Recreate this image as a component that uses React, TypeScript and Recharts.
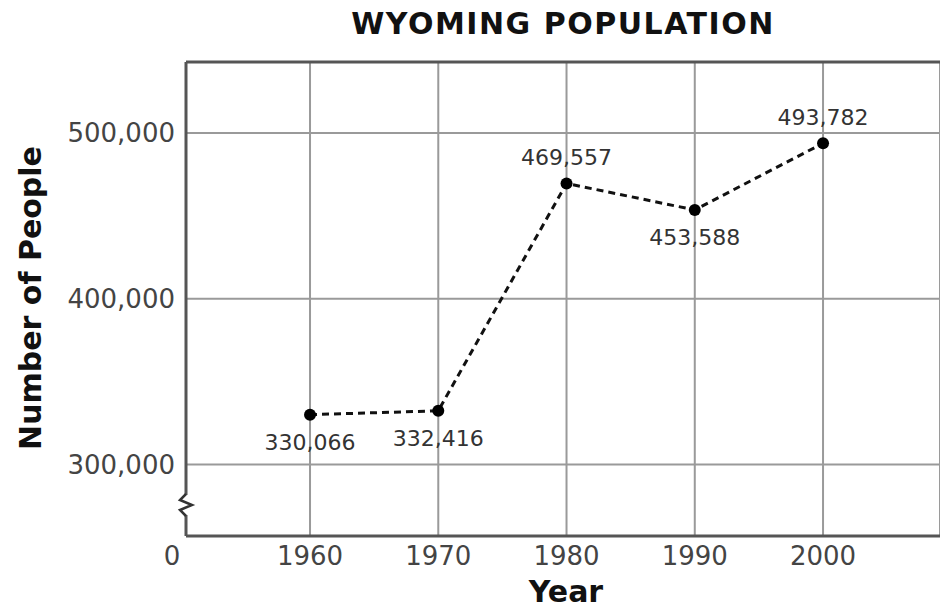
import React from 'react';
import {
    CartesianGrid,
    LabelList,
    Line,
    LineChart,
    ReferenceLine,
    XAxis,
    YAxis
} from 'recharts';

const years = [1960, 1970, 1980, 1990, 2000];
const population = [330066, 332416, 469557, 453588, 493782];
const labelSide = ['below', 'below', 'above', 'below', 'above'];
const yTicks = [300000, 400000, 500000];
const xDomain: [number, number] = [1950.33, 2009.12];
const yDomain: [number, number] = [256900, 542800];

const data = years.map((year, i) => ({ year, people: population[i] }));

const W = 940;
const H = 610;
const PLOT_LEFT = 186;
const PLOT_TOP = 62;
const PLOT_BOTTOM = 536;
const FONT = '"DejaVu Sans", Verdana, sans-serif';

const fmt = (v: number) => v.toLocaleString('en-US');

const XTick = (props: any) => {
    const { x, y, payload } = props;
    const isZero = payload.value === xDomain[0];
    return (
        <text
            x={isZero ? x - 14 : x}
            y={y + 18}
            textAnchor="middle"
            dominantBaseline="central"
            fontSize={26}
            fill="#444"
            fontFamily={FONT}
        >
            {isZero ? '0' : payload.value}
        </text>
    );
};

const PointLabel = (props: any) => {
    const { x, y, value, index } = props;
    const above = labelSide[index] === 'above';
    return (
        <text
            x={x}
            y={above ? y - 26 : y + 28}
            textAnchor="middle"
            dominantBaseline="central"
            fontSize={22}
            fill="#333"
            fontFamily={FONT}
        >
            {fmt(value)}
        </text>
    );
};

export default function App() {
    return (
        <div
            style={{
                position: 'absolute',
                left: 0,
                top: 0,
                width: W,
                height: H,
                overflow: 'hidden',
                background: '#fff',
                fontFamily: FONT
            }}
        >
            <div
                style={{
                    position: 'absolute',
                    top: 6,
                    left: 186,
                    right: 0,
                    textAlign: 'center',
                    fontSize: 30,
                    fontWeight: 'bold',
                    letterSpacing: 1.5,
                    color: '#111',
                    lineHeight: '36px'
                }}
            >
                WYOMING POPULATION
            </div>
            <LineChart
                width={W}
                height={H}
                data={data}
                margin={{ top: PLOT_TOP, right: 0, bottom: 0, left: 0 }}
            >
                <CartesianGrid stroke="#9a9a9a" strokeWidth={2} />
                <XAxis
                    dataKey="year"
                    type="number"
                    domain={xDomain}
                    allowDataOverflow
                    ticks={[xDomain[0], ...years]}
                    interval={0}
                    height={H - PLOT_BOTTOM}
                    tickLine={false}
                    tickSize={0}
                    axisLine={{ stroke: '#555', strokeWidth: 3 }}
                    tick={<XTick />}
                    label={{
                        content: () => (
                            <text
                                x={566}
                                y={591}
                                textAnchor="middle"
                                dominantBaseline="central"
                                fontSize={30}
                                fontWeight="bold"
                                fill="#111"
                                fontFamily={FONT}
                            >
                                Year
                            </text>
                        )
                    }}
                />
                <YAxis
                    type="number"
                    domain={yDomain}
                    allowDataOverflow
                    ticks={yTicks}
                    width={PLOT_LEFT}
                    tickLine={false}
                    tickSize={0}
                    tickMargin={11}
                    tickFormatter={fmt}
                    tick={{ fontSize: 26, fill: '#444', fontFamily: FONT }}
                    axisLine={{ stroke: '#555', strokeWidth: 3 }}
                    label={{
                        content: () => (
                            <text
                                x={30}
                                y={298}
                                transform="rotate(-90, 30, 298)"
                                textAnchor="middle"
                                dominantBaseline="central"
                                fontSize={30}
                                fontWeight="bold"
                                fill="#111"
                                fontFamily={FONT}
                            >
                                Number of People
                            </text>
                        )
                    }}
                />
                <ReferenceLine y={yDomain[1]} stroke="#555" strokeWidth={3} />
                <Line
                    dataKey="people"
                    type="linear"
                    stroke="#111"
                    strokeWidth={3}
                    strokeDasharray="7 5"
                    dot={{ r: 6, fill: '#000', stroke: '#000', strokeWidth: 0 }}
                    activeDot={false}
                    isAnimationActive={false}
                >
                    <LabelList dataKey="people" content={<PointLabel />} />
                </Line>
            </LineChart>
            <svg
                width={W}
                height={H}
                style={{ position: 'absolute', left: 0, top: 0, pointerEvents: 'none' }}
            >
                <rect x={PLOT_LEFT - 3} y={495} width={6} height={20} fill="#fff" />
                <path
                    d={`M${PLOT_LEFT},494 L${PLOT_LEFT - 6},500 L${PLOT_LEFT + 6},505 L${PLOT_LEFT - 6},510 L${PLOT_LEFT},516`}
                    stroke="#333"
                    strokeWidth={2.5}
                    fill="none"
                />
            </svg>
        </div>
    );
}
